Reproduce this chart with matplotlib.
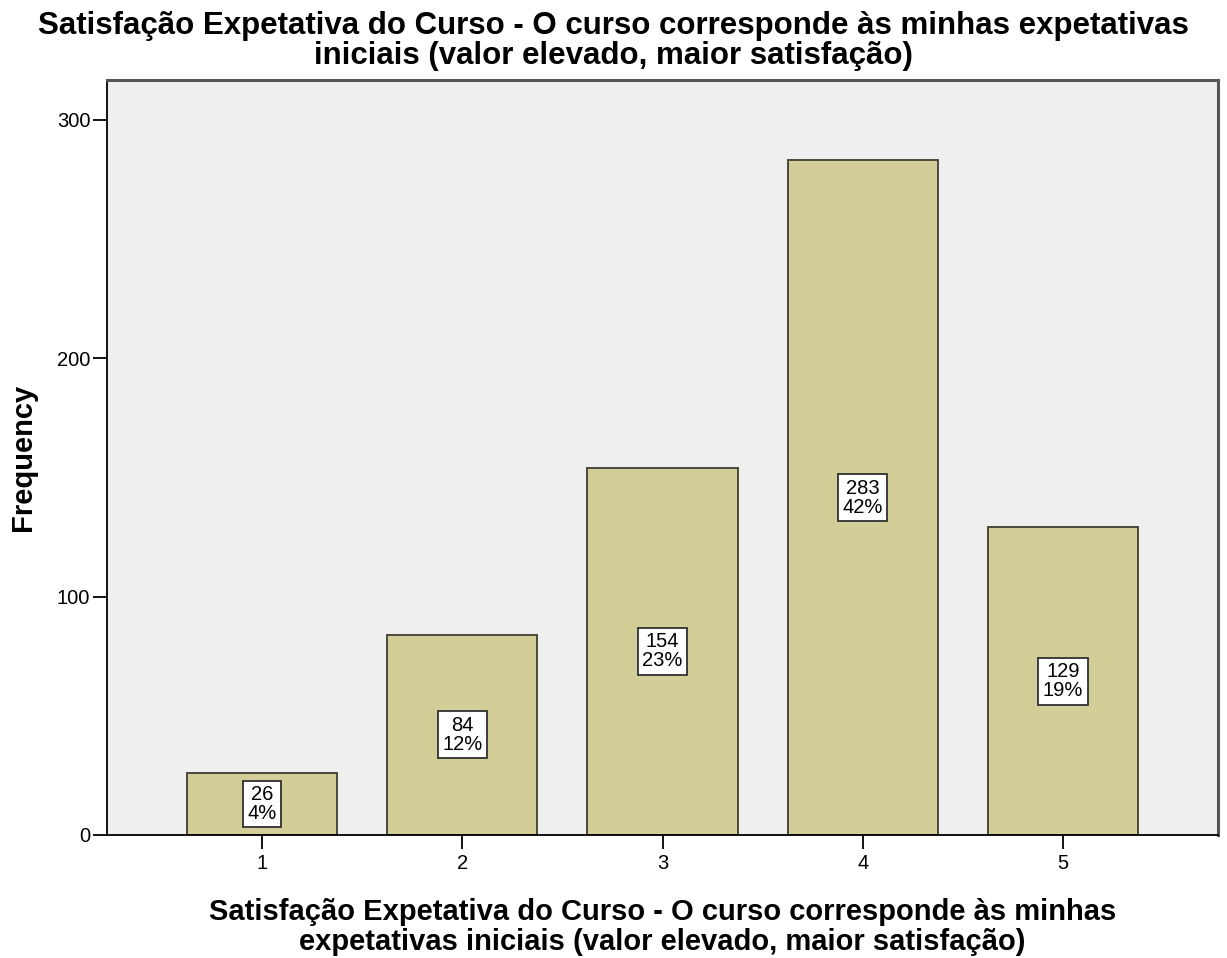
import matplotlib
matplotlib.use("Agg")
import matplotlib.pyplot as plt
import numpy as np

plt.rcParams['font.family'] = ['Liberation Sans', 'DejaVu Sans']

categories = ['1', '2', '3', '4', '5']
counts = [26, 84, 154, 283, 129]
percents = ['4%', '12%', '23%', '42%', '19%']

title = ("Satisfação Expetativa do Curso - O curso corresponde às minhas expetativas\n"
         "iniciais (valor elevado, maior satisfação)")
xlabel = ("Satisfação Expetativa do Curso - O curso corresponde às minhas\n"
          "expetativas iniciais (valor elevado, maior satisfação)")

fig = plt.figure(figsize=(12.27, 9.58), dpi=100)
ax = fig.add_axes([0.0872, 0.1284, 0.9055, 0.7881])
ax.set_facecolor('#EFEFEF')

x = np.arange(1, len(categories) + 1)
ax.bar(x, counts, width=0.75, color='#D3CE97', edgecolor='#4A4A3C', linewidth=1.4, zorder=2)

# count / percent boxes in the middle of each bar
for xi, c, p in zip(x, counts, percents):
    ax.text(xi, c / 2, f"{c}\n{p}", ha='center', va='center', fontsize=14.5, linespacing=1.0,
            zorder=3, bbox=dict(boxstyle='square,pad=0.22', facecolor='white',
                                edgecolor='#303030', linewidth=1.3))

ax.set_xlim(0.225, 5.775)
ax.set_ylim(0, 316.6)
ax.set_xticks(x)
ax.set_xticklabels(categories)
ax.set_yticks([0, 100, 200, 300])
ax.tick_params(axis='both', direction='out', length=10, width=1.3, labelsize=14.5, colors='black')
ax.tick_params(axis='x', pad=4)
ax.tick_params(axis='y', pad=2)

for s in ['left', 'bottom']:
    ax.spines[s].set_color('black')
    ax.spines[s].set_linewidth(1.3)
for s in ['top', 'right']:
    ax.spines[s].set_color('#555555')
    ax.spines[s].set_linewidth(2.2)

ax.set_ylabel('Frequency', fontsize=21, fontweight='bold', labelpad=14)
ax.set_xlabel(xlabel, fontsize=21, fontweight='bold', labelpad=18, linespacing=1.05)
fig.suptitle(title, fontsize=22.5, fontweight='bold', y=0.988, linespacing=1.0)

fig.savefig('out.png', dpi=100)
